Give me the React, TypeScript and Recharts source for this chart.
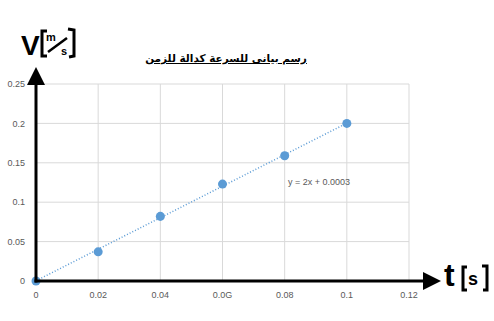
import React from 'react';
import {
  ScatterChart,
  Scatter,
  XAxis,
  YAxis,
  ZAxis,
  CartesianGrid,
  ReferenceLine,
} from 'recharts';

// measured time / velocity values
const times = [0, 0.02, 0.04, 0.06, 0.08, 0.1];
const velocities = [0, 0.037, 0.082, 0.123, 0.159, 0.2];
const xTicks = [0, 0.02, 0.04, 0.06, 0.08, 0.1, 0.12];
const yTicks = [0, 0.05, 0.1, 0.15, 0.2, 0.25];
const xTickLabels = ['0', '0.02', '0.04', '0.0G', '0.08', '0.1', '0.12'];
const trendSlope = 2;
const trendIntercept = 0.0003;
const title = 'رسم بيانى للسرعة كدالة للزمن';
const trendText = 'y = 2x + 0.0003';

const points = times.map((t, i) => ({ x: t, y: velocities[i] }));

const W = 494;
const H = 321;
const tickStyle = { fontSize: 9, fill: '#595959', fontFamily: '"Liberation Sans Narrow", "Liberation Sans", Arial, sans-serif' };
const handFont = '"Liberation Sans Narrow", "Liberation Sans", Arial, sans-serif';

// Overlay with the hand-drawn arrows and axis units
const Overlay: React.FC = () => (
  <svg width={W} height={H} style={{ position: 'absolute', left: 0, top: 0, pointerEvents: 'none' }}>
    <defs>
      <marker id="arr" markerWidth="6" markerHeight="6" refX="3" refY="3" orient="auto" markerUnits="strokeWidth">
        <path d="M0,0 L6,3 L0,6 Z" fill="#000" />
      </marker>
    </defs>
    <line x1={36} y1={282.5} x2={36} y2={76} stroke="#000" strokeWidth={3} markerEnd="url(#arr)" />
    <line x1={34.5} y1={281} x2={432} y2={281} stroke="#000" strokeWidth={3} markerEnd="url(#arr)" />
    {/* V [m/s] */}
    <text x={21} y={55} fontSize={28} fontWeight="bold" fontFamily={handFont}>V</text>
    <path d="M47,31 L42,31 L42,56 L47,56" stroke="#000" strokeWidth={3} fill="none" />
    <path d="M68,29 L74,30 L74,56 L69,57" stroke="#000" strokeWidth={3} fill="none" />
    <text x={46} y={41} fontSize={11} fontWeight="bold" fontFamily={handFont}>m</text>
    <line x1={48} y1={52} x2={67} y2={38} stroke="#000" strokeWidth={2.5} />
    <text x={61} y={55} fontSize={11} fontWeight="bold" fontFamily={handFont}>s</text>
    {/* t [s] */}
    <text x={444} y={286} fontSize={32} fontWeight="bold" fontFamily={handFont}>t</text>
    <path d="M467,267 L463,267 L463,290 L467,290" stroke="#000" strokeWidth={3} fill="none" />
    <path d="M482,266 L487,266 L487,290 L483,290" stroke="#000" strokeWidth={3} fill="none" />
    <text x={468} y={285} fontSize={18} fontWeight="bold" fontFamily={handFont}>s</text>
    <text x={288} y={185} fontSize={9} fill="#595959" fontFamily='"Liberation Sans", Arial, sans-serif'>{trendText}</text>
  </svg>
);

export default function App() {
  return (
    <div style={{ position: 'absolute', left: 0, top: 0, width: W, height: H, background: '#fff' }}>
      <ScatterChart width={W} height={H} margin={{ top: 84, right: 85, bottom: 10, left: 0 }}>
        <CartesianGrid stroke="#d9d9d9" strokeWidth={1} />
        <XAxis
          type="number"
          dataKey="x"
          height={30}
          domain={[0, 0.12]}
          ticks={xTicks}
          tickFormatter={(v: number) => xTickLabels[xTicks.indexOf(v)] ?? String(v)}
          axisLine={false}
          tickLine={false}
          tickSize={0}
          tickMargin={11}
          tick={tickStyle}
          interval={0}
        />
        <YAxis
          type="number"
          dataKey="y"
          width={36}
          domain={[0, 0.25]}
          ticks={yTicks}
          axisLine={false}
          tickLine={false}
          tickSize={0}
          tickMargin={11}
          tick={tickStyle}
          interval={0}
        />
        <ZAxis range={[28, 28]} />
        <ReferenceLine
          segment={[
            { x: 0, y: trendIntercept },
            { x: 0.1, y: trendSlope * 0.1 + trendIntercept },
          ]}
          stroke="#5B9BD5"
          strokeWidth={1.5}
          strokeDasharray="1 2"
          ifOverflow="visible"
        />
        <Scatter data={points} fill="#5B9BD5" isAnimationActive={false} />
      </ScatterChart>
      <div
        dir="rtl"
        style={{
          position: 'absolute',
          left: 140,
          top: 51,
          width: 172,
          textAlign: 'center',
          fontFamily: '"DejaVu Sans", sans-serif',
          fontWeight: 'bold',
          fontSize: 10.5,
          textDecoration: 'underline',
          lineHeight: '15px',
          whiteSpace: 'nowrap',
        }}
      >
        {title}
      </div>
      <Overlay />
    </div>
  );
}
